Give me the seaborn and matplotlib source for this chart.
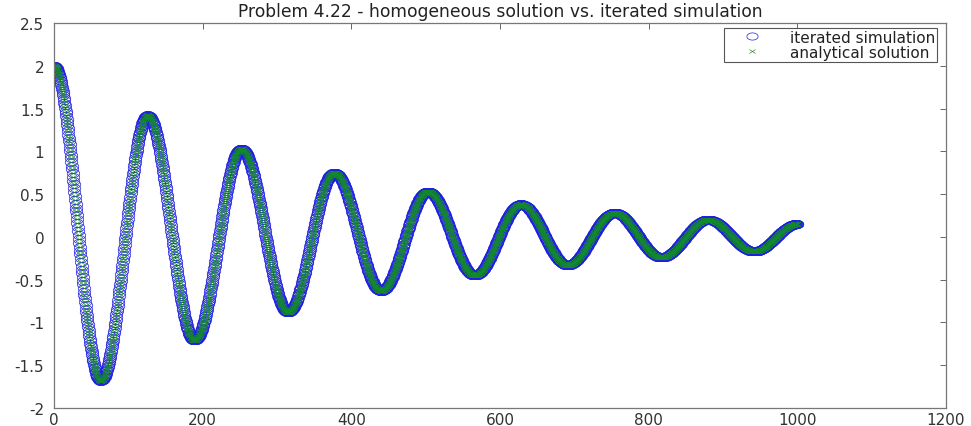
import numpy as np
import pandas as pd
import matplotlib
matplotlib.use("Agg")
import matplotlib.pyplot as plt
from matplotlib.path import Path
import seaborn as sns

# ---- data ----
title_text = "Problem 4.22 - homogeneous solution vs. iterated simulation"
series_labels = ["iterated simulation", "analytical solution"]
# positions and values of successive extrema (plus the last sample)
extrema_n = [0, 63, 126, 189, 252, 315, 377, 440, 503, 566, 628, 691, 754, 817, 880, 942, 1000]
extrema_y = [2.0, -1.68, 1.42, -1.21, 1.03, -0.88, 0.75, -0.63, 0.53, -0.45, 0.38, -0.33,
             0.28, -0.24, 0.20, -0.17, 0.15]
sample_step = 0.5
x_ticks = [0, 200, 400, 600, 800, 1000, 1200]
x_tick_labels = ["0", "200", "400", "600", "800", "1000", "1200"]
y_ticks = [-2, -1.5, -1, -0.5, 0, 0.5, 1, 1.5, 2, 2.5]
y_tick_labels = ["-2", "-1.5", "-1", "-0.5", "0", "0.5", "1", "1.5", "2", "2.5"]

# samples shaped as half-cosine arcs between the extrema read above
n = np.arange(extrema_n[0], extrema_n[-1] + sample_step / 2, sample_step)
y = np.zeros(len(n))
for n0, n1, y0, y1 in zip(extrema_n[:-1], extrema_n[1:], extrema_y[:-1], extrema_y[1:]):
    m = (n >= n0) & (n <= n1)
    t = (n[m] - n0) / (n1 - n0)
    y[m] = (y0 + y1) / 2 + (y0 - y1) / 2 * np.cos(np.pi * t)

df = pd.DataFrame({"n": n, "y": y})

# markers as in the (horizontally stretched) reference: wide ellipse and wide x
th = np.linspace(0, 2 * np.pi, 33)
ellipse = Path(np.column_stack([np.cos(th), 0.64 * np.sin(th)]))
wide_x = Path([(-1, -0.64), (1, 0.64), (-1, 0.64), (1, -0.64)],
              [Path.MOVETO, Path.LINETO, Path.MOVETO, Path.LINETO])

sns.set_style("white")
plt.rcParams["font.family"] = ["DejaVu Sans"]

fig = plt.figure(figsize=(9.71, 4.27), dpi=100)
ax = fig.add_axes([54 / 971, 18 / 427, 892 / 971, 385 / 427])

sns.lineplot(data=df, x="n", y="y", ax=ax, estimator=None, sort=False,
             linestyle="none", marker=ellipse, markersize=9, markerfacecolor="none",
             markeredgecolor="#2020e0", markeredgewidth=0.5, color="#2020e0",
             label=series_labels[0])
sns.lineplot(data=df, x="n", y="y", ax=ax, estimator=None, sort=False,
             linestyle="none", marker=wide_x, markersize=5, markerfacecolor="none",
             markeredgecolor="#138a2a", markeredgewidth=0.45, color="#138a2a",
             label=series_labels[1])

ax.set_xlim(0, 1200)
ax.set_ylim(-2, 2.5)
ax.set_xticks(x_ticks)
ax.set_xticklabels(x_tick_labels)
ax.set_yticks(y_ticks)
ax.set_yticklabels(y_tick_labels)
ax.set_xlabel("")
ax.set_ylabel("")
ax.tick_params(direction="in", top=True, right=True, length=4, width=0.7,
               colors="#666666", labelcolor="#333333", labelsize=11)
ax.tick_params(axis="x", pad=3)
ax.tick_params(axis="y", pad=7)
for s in ax.spines.values():
    s.set_visible(True)
    s.set_color("#777777")
    s.set_linewidth(0.9)

ax.set_title(title_text, fontsize=12.3, color="#222222", pad=5)

leg = ax.legend(loc="upper right", bbox_to_anchor=(0.9899, 0.987), fontsize=11,
                frameon=True, fancybox=False, framealpha=1, edgecolor="#555555",
                borderpad=0.12, labelspacing=0.0, handlelength=3.4, handletextpad=0.8,
                borderaxespad=0, markerscale=0.9)
leg.get_frame().set_linewidth(0.8)
for t in leg.get_texts():
    t.set_color("#222222")

fig.savefig("out.png", dpi=100, facecolor="white")
